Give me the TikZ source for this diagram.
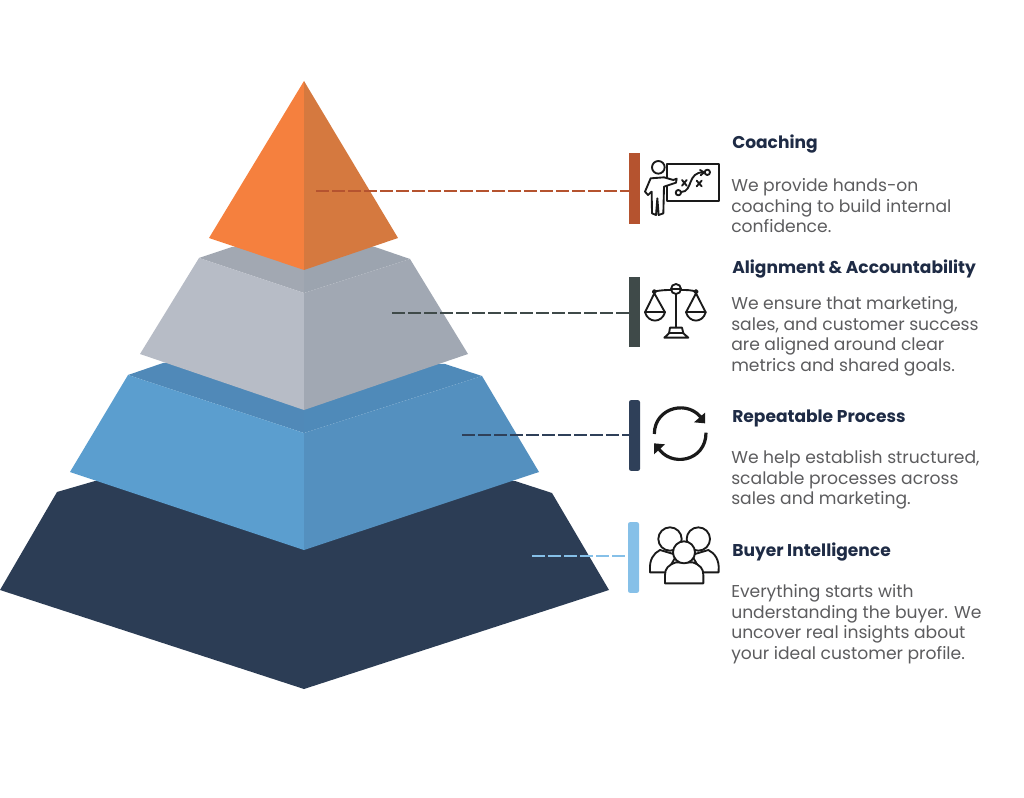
\documentclass[tikz,border=0pt]{standalone}
\usepackage{fontspec}
\setmainfont{Poppins}
\definecolor{orL}{HTML}{F5803E}
\definecolor{orR}{HTML}{D5793F}
\definecolor{grL}{HTML}{B7BCC6}
\definecolor{grR}{HTML}{A1A8B3}
\definecolor{grT}{HTML}{A2A8B2}
\definecolor{grTR}{HTML}{9CA4AF}
\definecolor{blL}{HTML}{5B9ECF}
\definecolor{blR}{HTML}{5490BF}
\definecolor{blT}{HTML}{5089B8}
\definecolor{blTR}{HTML}{4F8AB9}
\definecolor{navy}{HTML}{2C3D55}
\definecolor{ttl}{HTML}{1E2B45}
\definecolor{bodyc}{HTML}{5C5C5E}
\definecolor{bar1}{HTML}{B5532F}
\definecolor{bar2}{HTML}{3F4A49}
\definecolor{bar3}{HTML}{2F4059}
\definecolor{bar4}{HTML}{86C0E8}
\definecolor{ink}{HTML}{1A1A1A}
\tikzset{
  barbox/.style={minimum width=8.25pt,minimum height=53pt,inner sep=0pt,outer sep=0pt},
  titletext/.style={anchor=west,inner sep=0pt,font=\fontsize{12.8}{15}\selectfont\bfseries,text=ttl},
  bodytext/.style={anchor=north west,inner sep=0pt,align=left,text=bodyc,font=\fontsize{12.87}{15.55}\selectfont},
  leader/.style={dash pattern=on 9.6pt off 2.4pt,line width=1.2pt},
  icon/.style={draw=ink,line width=1.4pt,line join=round,line cap=round},
}
\begin{document}
\begin{tikzpicture}[x=0.75pt,y=-0.75pt]
\useasboundingbox (0,0) rectangle (1024,798);
% bottom layer
\fill[navy] (95,481) -- (515,481) -- (552,493) -- (609,590) -- (304,689) -- (0,590) -- (57,492) -- cycle;
% blue layer
\fill[blT] (128,375) -- (163,363) -- (304,363) -- (304,433) -- cycle;
\fill[blTR] (304,363) -- (445,364) -- (482,376) -- (304,433) -- cycle;
\fill[blL] (128,375) -- (304,433) -- (304,550) -- (70,472) -- cycle;
\fill[blR] (482,376) -- (304,433) -- (304,550) -- (539,472) -- cycle;
% grey layer
\fill[grT] (199,258) -- (232,247) -- (304,247) -- (304,293) -- cycle;
\fill[grTR] (304,247) -- (375,247) -- (410,259) -- (304,293) -- cycle;
\fill[grL] (199,258) -- (304,293) -- (304,410) -- (140,354) -- cycle;
\fill[grR] (410,259) -- (304,293) -- (304,410) -- (468,354) -- cycle;
% top
\fill[orL] (304,81) -- (304,270) -- (209,238) -- cycle;
\fill[orR] (304,81) -- (304,270) -- (398,238) -- cycle;
% bars
\node[barbox,fill=bar1] (b1) at (634.5,188.5) {};
\node[barbox,fill=bar2] (b2) at (634.5,312) {};
\node[barbox,fill=bar3,rounded corners=1.5pt] (b3) at (634.5,435.5) {};
\node[barbox,fill=bar4,rounded corners=1.5pt] (b4) at (633.5,557.5) {};
% leaders
\coordinate (s1) at (316,191);
\coordinate (s2) at (392,313);
\coordinate (s3) at (462,435);
\coordinate (s4) at (532,556);
\draw[leader,draw=bar1] (s1) -- (s1 -| b1.west);
\draw[leader,draw=bar2] (s2) -- (s2 -| b2.west);
\draw[leader,draw=bar3] (s3) -- (s3 -| b3.west);
\draw[leader,draw=bar4] (s4) -- (s4 -| b4.west);
% text
\node[titletext] (t1) at (732,144) {Coaching};
\node[bodytext] (d1) at (731,178) {We provide hands-on\\coaching to build internal\\confidence.};
\node[titletext] (t2) at (732,269) {Alignment \& Accountability};
\node[bodytext] (d2) at (731,296) {We ensure that marketing,\\sales, and customer success\\are aligned around clear\\metrics and shared goals.};
\node[titletext] (t3) at (732,418) {Repeatable Process};
\node[bodytext] (d3) at (731,450) {We help establish structured,\\scalable processes across\\sales and marketing.};
\node[titletext] (t4) at (732,552) {Buyer Intelligence};
\node[bodytext] (d4) at (731,584) {Everything starts with\\understanding the buyer. We\\uncover real insights about\\your ideal customer profile.};
% coaching icon
\begin{scope}[shift={(620,130)},scale=1/3]
\draw[icon] (142,102) rectangle (296,213);
\draw[icon,fill=white] (115,112) circle[radius=19];
\draw[icon,fill=white] (92,145) -- (132,142) -- (160,150) -- (170,146) -- (168,158) -- (132,170) -- (130,250) -- (116,255) -- (112,205) -- (108,255) -- (96,250) -- (95,185) -- (84,195) -- (75,185) -- cycle;
\draw[icon] (175,188) circle[radius=8];
\draw[icon] (262,127) circle[radius=8];
\draw[icon] (184,186) .. controls (220,185) and (200,125) .. (252,127);
\draw[icon] (186,150) -- (200,167) (200,150) -- (186,167);
\draw[icon] (230,152) -- (245,169) (245,152) -- (230,169);
\draw[icon] (240,120) -- (252,127) -- (242,136);
\end{scope}
% scales icon
\begin{scope}[shift={(620,265)},scale=1/3]
\draw[icon] (100,80) .. controls (125,75) and (140,75) .. (153,75);
\draw[icon] (183,75) .. controls (200,75) and (215,75) .. (228,80);
\draw[icon] (168,72) circle[radius=15];
\draw[icon] (153,72) -- (183,72);
\draw[icon,line width=1.9pt] (168,88) -- (168,186);
\draw[icon] (150,188) -- (186,188) -- (190,205) -- (205,218) -- (133,218) -- (147,205) -- cycle;
\draw[icon] (147,205) -- (190,205);
\draw[icon] (103,80) circle[radius=5];
\draw[icon] (228,80) circle[radius=5];
\draw[icon] (103,85) -- (75,142) .. controls (85,175) and (125,175) .. (135,142) -- cycle;
\draw[icon] (75,142) -- (135,142);
\draw[icon] (228,85) -- (198,142) .. controls (208,175) and (248,175) .. (257,142) -- cycle;
\draw[icon] (198,142) -- (257,142);
\end{scope}
% refresh icon
\begin{scope}[shift={(620,390)},scale=1/3]
\draw[icon,line width=2.4pt,line cap=butt] (103,132) .. controls (103,50) and (210,25) .. (250,92);
\draw[icon,line width=2.4pt,line cap=butt] (258,128) .. controls (258,215) and (150,235) .. (112,170);
\fill[ink] (255,68) -- (255,100) -- (222,97) -- cycle;
\fill[ink] (102,160) -- (102,193) -- (135,163) -- cycle;
\end{scope}
% people icon
\begin{scope}[shift={(620,515)},scale=1/3]
\draw[icon,fill=white] (120,105) .. controls (100,115) and (88,135) .. (90,165) -- (90,172) -- (140,172) -- (170,120) -- cycle;
\draw[icon,fill=white] (265,105) .. controls (285,115) and (298,135) .. (296,165) -- (296,172) -- (245,172) -- (215,120) -- cycle;
\draw[icon,fill=white] (150,72) circle[radius=35];
\draw[icon,fill=white] (235,72) circle[radius=35];
\draw[icon,fill=white] (168,142) .. controls (145,150) and (135,160) .. (135,180) -- (135,205) -- (250,205) -- (250,180) .. controls (250,160) and (240,150) .. (218,142) -- cycle;
\draw[icon,fill=white] (192,112) circle[radius=33];
\end{scope}
\end{tikzpicture}
\end{document}
